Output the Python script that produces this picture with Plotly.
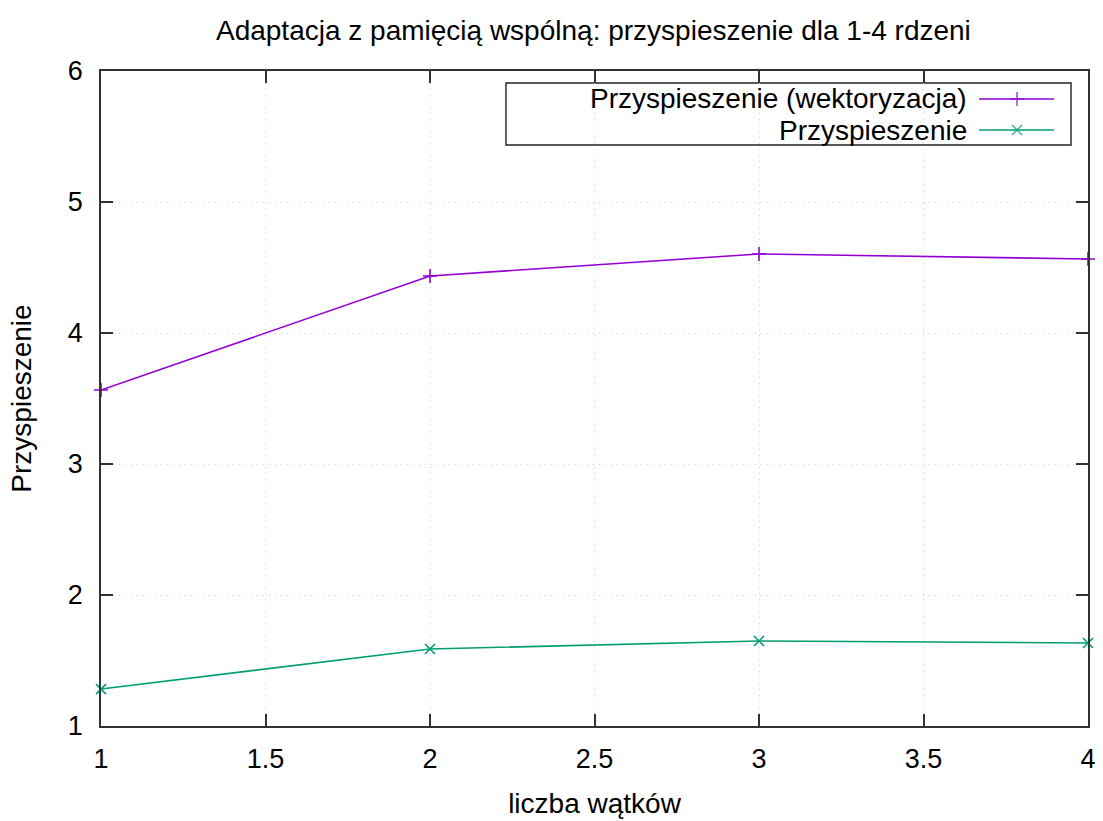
import plotly.graph_objects as go

# Speedup measurements for 1-4 threads
threads = [1, 2, 3, 4]
speedup_vec = [3.565, 4.435, 4.603, 4.565]
speedup = [1.282, 1.588, 1.649, 1.634]

series_names = ["Przyspieszenie (wektoryzacja)", "Przyspieszenie"]
series_colors = ["#9400D3", "#009E73"]
series_symbols = ["cross-thin", "x-thin"]

title_text = "Adaptacja z pamięcią wspólną: przyspieszenie dla 1-4 rdzeni"
x_title = "liczba wątków"
y_title = "Przyspieszenie"

FONT = "Liberation Sans, Arial, sans-serif"
FS = 28
TICK_FS = 27

fig = go.Figure()

for ys, name, color, sym in zip([speedup_vec, speedup], series_names, series_colors, series_symbols):
    fig.add_trace(go.Scatter(
        x=threads, y=ys, name=name, mode="lines+markers",
        line=dict(color=color, width=1.6),
        marker=dict(symbol=sym, size=10, color=color, line=dict(color=color, width=1.6)),
        showlegend=False, cliponaxis=False,
    ))

# Key box in the upper right, gnuplot style: text right-aligned, sample to the right
key_x0, key_x1 = 0.4103, 0.9828
key_y0, key_y1 = 0.887, 0.9817
fig.add_shape(type="rect", xref="paper", yref="paper",
              x0=key_x0, x1=key_x1, y0=key_y0, y1=key_y1,
              line=dict(color="#222222", width=1.4), fillcolor="white", layer="between")
row_y = [0.9573, 0.9099]
sample_x = [0.8896, 0.9281, 0.9655]
for yy, name, color, sym in zip(row_y, series_names, series_colors, series_symbols):
    fig.add_annotation(xref="paper", yref="paper", x=0.8795, y=yy, text=name,
                       showarrow=False, xanchor="right", yanchor="middle",
                       font=dict(family=FONT, size=FS, color="black"))
    fig.add_trace(go.Scatter(
        x=sample_x, y=[yy] * 3, xaxis="x2", yaxis="y2", mode="lines+markers",
        line=dict(color=color, width=1.6),
        marker=dict(symbol=sym, size=[0, 10, 0], color=color, line=dict(color=color, width=1.6)),
        showlegend=False, hoverinfo="skip", cliponaxis=False,
    ))

axis_common = dict(
    showline=True, linecolor="#333333", linewidth=1.8, mirror="allticks",
    ticks="inside", ticklen=12, tickwidth=1.6, tickcolor="#333333",
    showgrid=True, gridcolor="#cfcfcf", griddash="1px,5px", gridwidth=1.2,
    zeroline=False, automargin=False,
    tickfont=dict(family=FONT, size=TICK_FS, color="black"),
)

fig.update_layout(
    width=1103, height=821,
    margin=dict(l=101, r=15, t=71, b=95),
    paper_bgcolor="white", plot_bgcolor="white",
    title=dict(text=title_text, x=0.538, xanchor="center", y=0.9635, yanchor="middle",
               font=dict(family=FONT, size=FS, color="black")),
    xaxis=dict(range=[1, 4], dtick=0.5, tick0=1, ticklabelstandoff=8,
               title=dict(text=x_title, font=dict(family=FONT, size=FS, color="black"), standoff=20),
               **axis_common),
    yaxis=dict(range=[1, 6], dtick=1, tick0=1, ticklabelstandoff=11,
               title=dict(text=y_title, font=dict(family=FONT, size=FS, color="black"), standoff=28),
               **axis_common),
    xaxis2=dict(range=[0, 1], overlaying="x", visible=False, anchor="y2"),
    yaxis2=dict(range=[0, 1], overlaying="y", visible=False, anchor="x2"),
    font=dict(family=FONT, color="black"),
)

fig.write_html("out.html")
